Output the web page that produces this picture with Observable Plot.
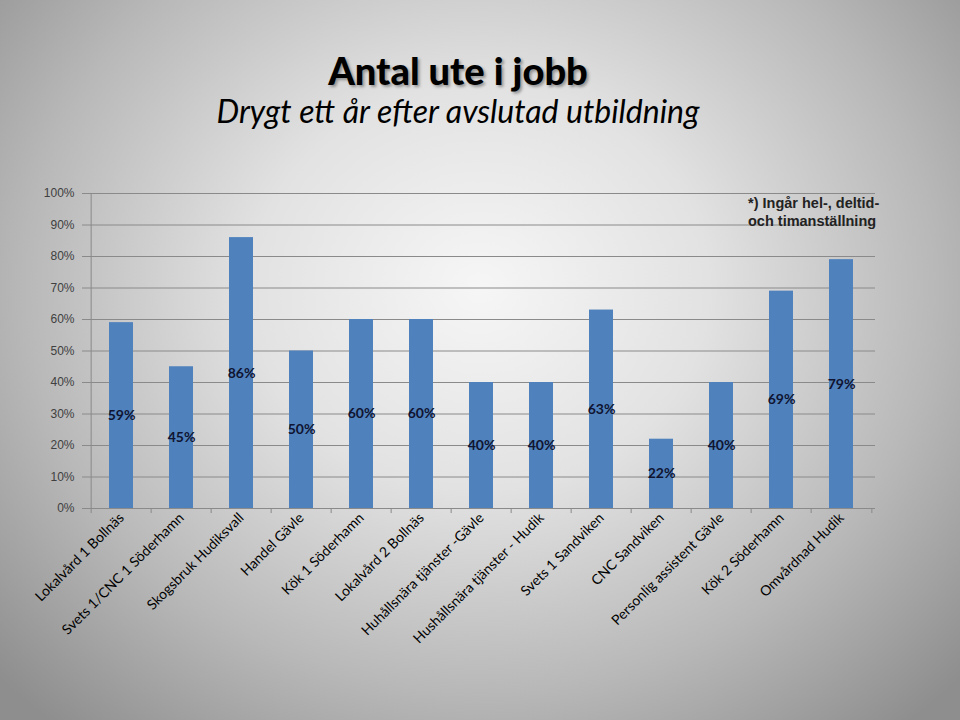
<!DOCTYPE html>
<html>
<head>
<meta charset="utf-8">
<script src="https://cdn.jsdelivr.net/npm/d3@7"></script>
<script src="https://cdn.jsdelivr.net/npm/@observablehq/plot@0.6"></script>
<style>
  html, body { margin: 0; padding: 0; }
  #wrap {
    position: relative; width: 960px; height: 720px; overflow: hidden;
    background: radial-gradient(ellipse 68% 80% at 50% 40%, #f6f6f6 0%, #e2e2e2 35%, #b8b8b8 70%, #8e8e8e 100%);
  }
  #title {
    position: absolute; left: 0; top: 50px; width: 916px; text-align: center;
    font-family: Lato, "Open Sans", sans-serif; font-weight: 900; font-size: 38px; color: #000;
    text-shadow: 2px 2px 3px rgba(0,0,0,0.35); line-height: 40px;
  }
  #subtitle {
    position: absolute; left: 0; top: 93px; width: 916px; text-align: center;
    font-family: Lato, "Open Sans", sans-serif; font-style: italic; font-size: 32px; color: #000;
    line-height: 36px;
  }
  #note {
    position: absolute; left: 748px; top: 194px;
    font-family: "Liberation Sans", Arial, sans-serif; font-weight: bold; font-size: 14.5px; color: #222;
    line-height: 18px;
  }
  #chart { position: absolute; left: 0; top: 150px; }
</style>
</head>
<body>
<div id="wrap">
  <div id="title">Antal ute i jobb</div>
  <div id="subtitle">Drygt ett år efter avslutad utbildning</div>
  <div id="chart"></div>
  <div id="note">*) Ingår hel-, deltid-<br>och timanställning</div>
</div>
<script>
const categories = [
  "Lokalvård 1 Bollnäs",
  "Svets 1/CNC 1 Söderhamn",
  "Skogsbruk Hudiksvall",
  "Handel Gävle",
  "Kök 1 Söderhamn",
  "Lokalvård 2 Bollnäs",
  "Huhållsnära tjänster -Gävle",
  "Hushållsnära tjänster - Hudik",
  "Svets 1 Sandviken",
  "CNC Sandviken",
  "Personlig assistent Gävle",
  "Kök 2 Söderhamn",
  "Omvårdnad Hudik"
];
const values = [59, 45, 86, 50, 60, 60, 40, 40, 63, 22, 40, 69, 79];
const yTicks = [0, 10, 20, 30, 40, 50, 60, 70, 80, 90, 100];

const data = categories.map((c, i) => ({cat: c, value: values[i] / 100}));

const W = 960, mL = 86, mR = 85;
const step = (W - mL - mR) / categories.length;

const chart = Plot.plot({
  width: W,
  height: 570,
  marginLeft: mL,
  marginRight: mR,
  marginTop: 43,
  marginBottom: 212,
  style: {background: "transparent", overflow: "visible"},
  x: {domain: categories, paddingInner: 0.6, paddingOuter: 0.3, label: null},
  y: {domain: [0, 1], label: null},
  marks: [
    Plot.gridY(yTicks.map(d => d / 100), {stroke: "#8a8a8a", strokeOpacity: 1, strokeWidth: 1}),
    Plot.axisY(yTicks.map(d => d / 100), {
      tickFormat: d => Math.round(d * 100) + "%",
      tickSize: 4, tickPadding: 8, stroke: "#8a8a8a",
      fontSize: 12, fill: "#404040", fontFamily: "'Liberation Sans', Arial, sans-serif",
      label: null
    }),
    Plot.ruleX([categories[0]], {x: d => d, dx: -step / 2, y1: 0, y2: 1, stroke: "#8a8a8a"}),
    Plot.ruleX(categories, {x: d => d, dx: -step / 2, y1: 0, y2: -0.016, stroke: "#8a8a8a"}),
    Plot.ruleX([categories[categories.length - 1]], {x: d => d, dx: step / 2, y1: 0, y2: -0.016, stroke: "#8a8a8a"}),
    Plot.barY(data, {x: "cat", y: "value", fill: "#4f81bd"}),
    Plot.text(data, {
      x: "cat", y: d => d.value / 2, text: d => Math.round(d.value * 100) + "%",
      fontWeight: "bold", fontSize: 14, fill: "#0f1430",
      fontFamily: "Lato, 'Open Sans', sans-serif"
    }),
    Plot.axisX({
      tickSize: 0, tickPadding: 7, tickRotate: -45, label: null,
      fontSize: 14, fill: "#000", fontFamily: "Lato, 'Open Sans', sans-serif"
    })
  ]
});
document.getElementById("chart").appendChild(chart);
</script>
</body>
</html>
